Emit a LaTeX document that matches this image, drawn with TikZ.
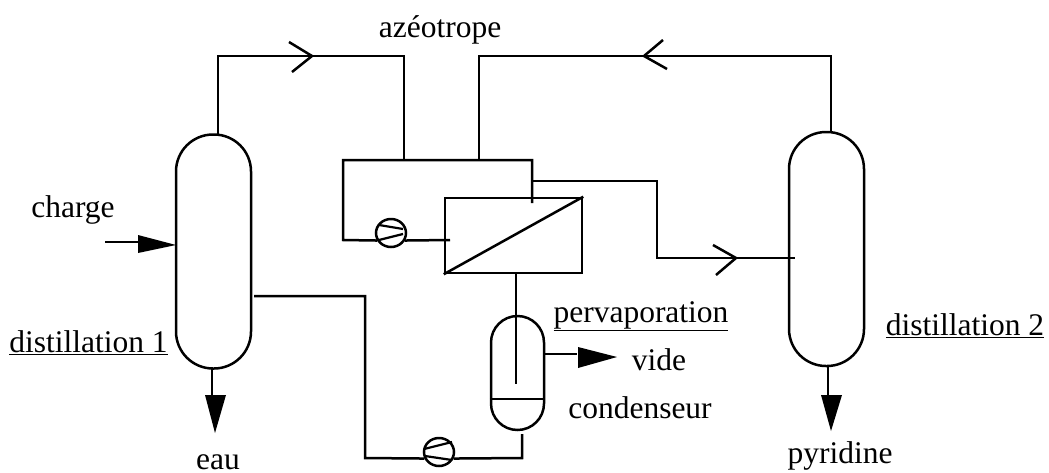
\documentclass[tikz,border=0pt]{standalone}
\usepackage{fontspec}
\setmainfont{Liberation Serif}
\tikzset{
  pipe/.style={line width=2.5pt,line join=miter},
  column/.style={draw,line width=2.5pt,minimum width=75pt,minimum height=234pt,inner sep=0pt,rounded corners=37pt},
  lbl/.style={inner sep=0pt,font=\fontsize{31.5}{32}\selectfont,anchor=base},
  pumpc/.style={ellipse,draw,line width=2.5pt,minimum width=30pt,minimum height=28pt,inner sep=0pt},
}
\usetikzlibrary{shapes.geometric}
\newcommand{\ul}[1]{\underline{#1}}
\begin{document}
\begin{tikzpicture}[x=1pt,y=-1pt]
\useasboundingbox (0,0) rectangle (1049,472);
% vessels
\node[column] (c1) at (213.5,251.5) {};
\node[column] (c2) at (826.5,249) {};
\node[draw,line width=2.5pt,minimum width=137pt,minimum height=75pt,inner sep=0pt] (mem) at (513.5,235.5) {};
\draw[pipe] (mem.south west) -- (mem.north east);
\node[draw,line width=2.5pt,minimum width=53pt,minimum height=114pt,inner sep=0pt,rounded corners=26.5pt] (cond) at (517.5,373) {};
\draw[pipe] (cond.west |- 0,399) -- (cond.east |- 0,399);
% pumps
\node[pumpc] (p1) at (391,233) {};
\draw[line width=2.2pt] (379,225) -- (403,229) (379,240) -- (403,234);
\node[pumpc] (p2) at (439,452) {};
\draw[line width=2.2pt] (424,449) -- (452,442) (425,456) -- (452,460);
% named free ends and bends
\coordinate (c1top) at (218,135); \coordinate (a1) at (218,56); \coordinate (a2) at (404,56);
\coordinate (j1) at (404,160); \coordinate (j2) at (479,160);
\coordinate (b1) at (479,56); \coordinate (b2) at (831,56); \coordinate (c2top) at (831,132);
\coordinate (r1) at (343,160); \coordinate (r2) at (532,160); \coordinate (r3) at (532,203);
\coordinate (r4) at (343,240); \coordinate (m1) at (450,240);
\coordinate (s1) at (532,181); \coordinate (s2) at (657,181); \coordinate (s3) at (657,258); \coordinate (s4) at (795,258);
\coordinate (t1a) at (516,274); \coordinate (t1b) at (516,384);
\coordinate (v1) at (543,354); \coordinate (v2) at (577,354);
\coordinate (w1) at (254,296); \coordinate (w2) at (365,296); \coordinate (w3) at (365,458);
\coordinate (w4) at (522,458); \coordinate (w5) at (522,434);
\coordinate (f1) at (105,242); \coordinate (f2) at (139,242);
\coordinate (e1) at (212,368); \coordinate (e2) at (212,396);
\coordinate (y1) at (828,366); \coordinate (y2) at (828,396);
% lines
\draw[pipe] (c1top) -- (a1) -- (a2) -- (j1);
\draw[pipe] (j2) -- (b1) -- (b2) -- (c2top);
\draw[pipe] (r3) -- (r2) -- (r1) -- (r4) -- (p1.208);
\draw[pipe] (p1.332) -- (m1);
\draw[pipe] (s1) -- (s2) -- (s3) -- (s4);
\draw[pipe] (t1a) -- (t1b);
\draw[pipe] (v1) -- (v2);
\draw[pipe] (w1) -- (w2) -- (w3) -- (p2.204);
\draw[pipe] (p2.336) -- (w4) -- (w5);
\draw[pipe] (f1) -- (f2);
\draw[pipe] (e1) -- (e2);
\draw[pipe] (y1) -- (y2);
% open arrowheads
\draw[pipe] (289,42) -- (312,56) -- (292,72);
\draw[pipe] (663,40) -- (644,56) -- (667,69);
\draw[pipe] (713,245) -- (736,258) -- (716,275);
% solid arrowheads
\fill (138,235) -- (176,245) -- (138,253) -- cycle;
\fill (205,395) -- (226,395) -- (215,433) -- cycle;
\fill (821,395) -- (842,395) -- (831,431) -- cycle;
\fill (578,347) -- (617,357) -- (578,368) -- cycle;
% labels
\node[lbl] (t1) at (440,37) {azéotrope};
\node[lbl] (t2) at (73,217) {charge};
\node[lbl] (t3) at (88.5,352) {\ul{distillation 1}};
\node[lbl] (t4) at (965,335) {\ul{distillation 2}};
\node[lbl] (t5) at (641,322) {\ul{pervaporation}};
\node[lbl] (t6) at (659,370) {vide};
\node[lbl] (t7) at (640,418) {condenseur};
\node[lbl] (t8) at (218,469.5) {eau};
\node[lbl] (t9) at (840,463) {pyridine};
\end{tikzpicture}
\end{document}
